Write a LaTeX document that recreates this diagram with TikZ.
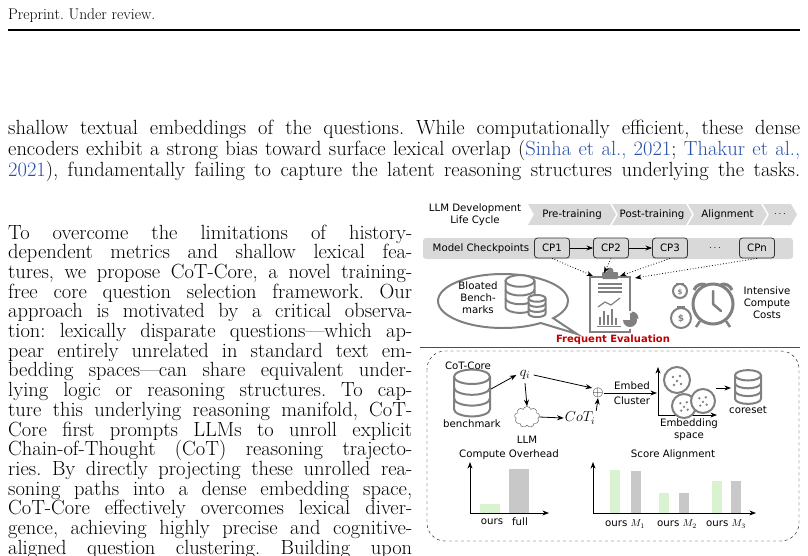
\documentclass[tikz,border=0pt]{standalone}
\usepackage{fontspec}
\newfontfamily\figfont{DejaVu Sans}
\usepackage{tikz}
\usetikzlibrary{arrows.meta,positioning,shapes.symbols,shapes.callouts,shapes.geometric}
\definecolor{iconGray}{RGB}{128,128,128}
\definecolor{chevGray}{RGB}{217,217,217}
\definecolor{barGreen}{RGB}{217,242,208}
\definecolor{barGray}{RGB}{200,200,200}
\definecolor{evalRed}{RGB}{192,0,0}
\definecolor{citeBlue}{RGB}{40,80,170}
\frenchspacing

\begin{document}
\begin{tikzpicture}[x=1pt,y=-1pt,
    body/.style={anchor=base west,inner sep=0,font=\fontsize{20.5}{22}\selectfont},
    fig/.style={inner sep=0,font=\figfont\fontsize{10.2}{12}\selectfont},
    cp/.style={fig,draw=black!80,fill=chevGray,rounded corners=3,minimum width=35,minimum height=20,line width=0.8pt},
    icon/.style={draw=iconGray,line width=2pt},
    db/.pic={
        \draw[icon,fill=white] (-10,-9) -- (-10,9) arc[start angle=180,end angle=0,x radius=10,y radius=4] -- (10,-9);
        \draw[icon,fill=white] (0,-9) ellipse (10 and 4);
        \draw[icon] (-10,-3) arc[start angle=180,end angle=0,x radius=10,y radius=4];
        \draw[icon] (-10,3) arc[start angle=180,end angle=0,x radius=10,y radius=4];
    }]
\useasboundingbox (0,0) rectangle (808,555);

% page header
\node[anchor=base west,inner sep=0,font=\fontsize{15.5}{18}\selectfont] (head) at (8,19) {Preprint. Under review.};
\draw[line width=2pt] (8,30) -- (800,30);

% running text
\node[body] (p1) at (8,134) {\hbox to 792pt{shallow textual embeddings of the questions. While computationally efficient, these dense}};
\node[body] (p2) at (8,155) {\hbox to 792pt{encoders exhibit a strong bias toward surface lexical overlap ({\color{citeBlue}Sinha et al., 2021}; {\color{citeBlue}Thakur et al.,}}};
\node[body] (p3) at (8,176) {\hbox to 792pt{{\color{citeBlue}2021}), fundamentally failing to capture the latent reasoning structures underlying the tasks.}};
\foreach \txt [count=\i from 0] in {
    {To overcome the limitations of history-},
    {dependent metrics and shallow lexical fea-},
    {tures, we propose CoT-Core, a novel training-},
    {free core question selection framework. Our},
    {approach is motivated by a critical observa-},
    {tion: lexically disparate questions—which ap-},
    {pear entirely unrelated in standard text em-},
    {bedding spaces—can share equivalent under-},
    {lying logic or reasoning structures. To cap-},
    {ture this underlying reasoning manifold, CoT-},
    {Core first prompts LLMs to unroll explicit},
    {Chain-of-Thought (CoT) reasoning trajecto-},
    {ries. By directly projecting these unrolled rea-},
    {soning paths into a dense embedding space,},
    {CoT-Core effectively overcomes lexical diver-},
    {gence, achieving highly precise and cognitive-},
    {aligned question clustering. Building upon}}
    \node[body] (col\i) at (8,239+19.7*\i) {\hbox to 404pt{\txt}};

% life cycle
\node[fig,align=center] (cycle) at (475,215) {LLM Development\\Life Cycle};
\foreach \xa/\xb/\lab/\nm in {528/610/Pre-training/pre,612/686/Post-training/post,688/761/Alignment/align,763/791/$\cdots$/more}{
    \fill[chevGray] (\xa,204) -- (\xb,204) -- (\xb+6,214.5) -- (\xb,225) -- (\xa,225) -- (\xa+6,214.5) -- cycle;
    \node[fig] (\nm) at ({(\xa+\xb)/2+3},214.5) {\lab};
}

% checkpoints
\fill[chevGray,rounded corners=3] (423,238) rectangle (793,259);
\node[fig] (ckpt) at (481,248.5) {Model Checkpoints};
\node[cp] (cp1) at (552,248) {CP1};
\node[cp] (cp2) at (611,248) {CP2};
\node[cp] (cp3) at (670,248) {CP3};
\node[fig] (cpdots) at (715,248) {$\cdots$};
\node[cp] (cpn) at (757,248) {CPn};
\draw[thick,-{Stealth}] (cp1) -- (cp2);
\draw[thick,-{Stealth}] (cp2) -- (cp3);

% bloated benchmarks
\node[ellipse callout,icon,minimum width=130,minimum height=54,callout absolute pointer={(577,334)}] (bubble) at (503,301) {};
\node[fig,align=center] (bloat) at (478,298) {Bloated\\Bench-\\marks};
\pic[scale=1.45] at (520,294) {db};
\pic[scale=0.85] at (537,306) {db};

% clipboard
\node[draw=iconGray,line width=2pt,minimum width=40,minimum height=55,inner sep=0] (clip) at (610,304) {};
\fill[iconGray,rounded corners=1] (602,272) rectangle (618,279);
\fill[iconGray] (610,271) circle (3.5);
\foreach \y in {284,288,292} \draw[iconGray,line width=1.2pt] (598,\y) -- (622,\y);
\draw[iconGray,line width=1.2pt] (598,307) -- (605,302) -- (611,305) -- (620,298);
\foreach \x/\h in {600/8,604/14,608/10,612/16,616/7} \fill[iconGray] (\x-1.3,325) rectangle (\x+1.3,325-\h);
\draw[iconGray,line width=1pt] (597,326) -- (621,326);
\fill[white] (630,320) circle (9);
\fill[iconGray] (630,320) -- (630,313) arc[start angle=-90,end angle=180,radius=7] -- cycle;
\fill[iconGray] (631.5,318.5) -- (638.5,318.5) arc[start angle=0,end angle=-90,radius=7] -- cycle;
\coordinate (inA) at (593,276);
\coordinate (inB) at (604,273);
\coordinate (inC) at (620,276);
\coordinate (inD) at (635,278);
\draw[dotted,thick,-{Stealth}] (cp1.south) -- (inA);
\draw[dotted,thick,-{Stealth}] (cp2.south) -- (inB);
\draw[dotted,thick,-{Stealth}] (cp3.south) -- (inC);
\draw[dotted,thick,-{Stealth}] (cpn.south) -- (inD);
\node[fig,font=\figfont\bfseries\fontsize{10}{11}\selectfont,text=evalRed] (freq) at (613,340) {Frequent Evaluation};

% compute costs
\draw[icon,fill=white] (681,318) circle (10);
\node[fig,text=iconGray,font=\figfont\bfseries\fontsize{9}{10}\selectfont] (bag1) at (681,319) {\$};
\draw[icon,fill=white] (680,291) circle (7);
\node[fig,text=iconGray,font=\figfont\bfseries\fontsize{7}{8}\selectfont] (bag2) at (680,292) {\$};
\draw[icon,line width=1.5pt] (676,284) -- (684,284) (677,307) -- (685,307);
\draw[iconGray,line width=3pt] (713,304) circle (20);
\draw[iconGray,line width=2.5pt,line cap=round] (713,304) -- (713,291) (713,304) -- (721,311);
\draw[iconGray,line width=3pt] (694,290) arc[start angle=200,end angle=290,radius=9];
\draw[iconGray,line width=3pt] (732,290) arc[start angle=-20,end angle=-110,radius=9];
\draw[iconGray,line width=2.5pt] (700,321) -- (696,327) (726,321) -- (730,327);
\node[fig,align=center] (costs) at (767,303) {Intensive\\Compute\\Costs};
\draw[black!70,line width=1.5pt] (420,347.5) -- (800,347.5);

% CoT-Core pipeline
\draw[dashed,rounded corners=18] (427,351) rectangle (799,541);
\node[fig] (cotcore) at (468,366) {CoT-Core};
\pic[scale=1.8] at (472,393) {db};
\node[fig] (bench) at (472,424) {benchmark};
\coordinate (benchOut) at (491,389);
\node[font=\fontsize{14}{15}\selectfont] (q) at (525,375) {$q_i$};
\node[cloud,draw=black!70,cloud puffs=9,aspect=1.2,minimum width=25,minimum height=21,inner sep=0] (brain) at (527,417) {};
\node[fig] (llm) at (527,440) {LLM};
\node[font=\fontsize{14}{15}\selectfont,inner sep=1] (cot) at (580,418) {$CoT_i$};
\node[font=\fontsize{14}{14}\selectfont,inner sep=0] (plus) at (598,393) {$\oplus$};
\draw[thick,-{Stealth}] (benchOut) -- (q.west);
\draw[thick,-{Stealth}] (q.south) -- (brain.north);
\draw[thick,-{Stealth}] (brain.east) -- (cot.west);
\draw[thick,-{Stealth}] (q.east) -- (plus.north west);
\draw[thick,-{Stealth}] (cot.north east) -- (plus.south);
\coordinate (axIn) at (657,393);
\draw[thick,-{Stealth}] (plus.east) -- (axIn);
\node[fig] (embed) at (632,386) {Embed};
\node[fig] (cluster) at (632,401) {Cluster};
\coordinate (ax0) at (658,415);
\draw[thick,{Stealth}-{Stealth}] (658,367) -- (ax0) -- (717,415);
\foreach \cx/\cy/\r in {677/380/13,684/406/12,703/401/12}{
    \draw[icon,fill=white] (\cx,\cy) circle (\r);
    \foreach \dx/\dy in {-4/-3,3/-4,0/1,-3/5,4/4} \fill[iconGray] (\cx+\dx*\r/13,\cy+\dy*\r/13) circle (1.3);
}
\node[fig,align=center] (espace) at (689,430) {Embedding\\space};
\coordinate (toCore) at (731,388);
\draw[thick,-{Stealth}] (716,388) -- (toCore);
\pic[scale=1.3] at (748,387) {db};
\node[fig] (coreset) at (748,410) {coreset};

% compute overhead chart
\node[fig] (overhead) at (509,455) {Compute Overhead};
\draw[thick,{Stealth}-{Stealth}] (470,462) -- (470,513) -- (549,513);
\fill[barGreen] (480,504) rectangle (500,513);
\fill[barGray] (509,469) rectangle (529,513);
\node[fig] (ours0) at (492,522) {ours};
\node[fig] (full) at (520,522) {full};

% score alignment chart
\node[fig] (align2) at (673,455) {Score Alignment};
\draw[thick,{Stealth}-{Stealth}] (593,462) -- (593,513) -- (756,513);
\foreach \xa/\top/\col in {610/470/barGreen,631/471/barGray,659/493/barGreen,679/493/barGray,712/481/barGreen,731/481/barGray}
    \fill[\col] (\xa,\top) rectangle (\xa+10,513);
\node[fig] (m1) at (625,524) {ours $M_1$};
\node[fig] (m2) at (677,524) {ours $M_2$};
\node[fig] (m3) at (726,524) {ours $M_3$};
\end{tikzpicture}
\end{document}
